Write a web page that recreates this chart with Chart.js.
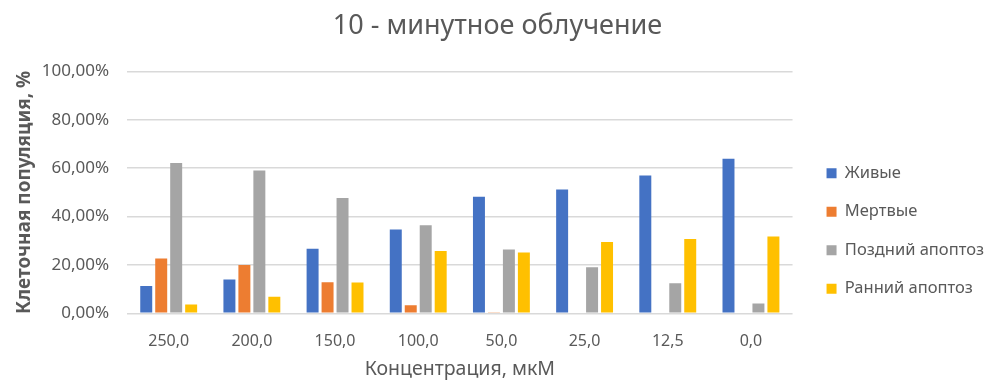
<!DOCTYPE html>
<html>
<head>
<meta charset="utf-8">
<script src="https://cdn.jsdelivr.net/npm/chart.js@4/dist/chart.umd.min.js"></script>
<style>
  html, body { margin: 0; padding: 0; background: #ffffff; }
  #wrap { width: 989px; height: 380px; }
</style>
</head>
<body>
<div id="wrap"><canvas id="chart" width="989" height="380"></canvas></div>
<script>
// Concentrations (µM) along the x axis
const categories = ['250,0', '200,0', '150,0', '100,0', '50,0', '25,0', '12,5', '0,0'];

// Cell population shares, %
const alive      = [11.3, 14.0, 26.7, 34.7, 48.2, 51.2, 57.0, 63.9];
const dead       = [22.7, 20.0, 12.9,  3.3,  0.5,  0,    0,    0];
const lateApopt  = [62.1, 59.0, 47.7, 36.4, 26.4, 19.1, 12.4,  4.1];
const earlyApopt = [ 3.7,  6.9, 12.7, 25.8, 25.1, 29.5, 30.7, 31.8];

const seriesNames = ['Живые', 'Мертвые', 'Поздний апоптоз', 'Ранний апоптоз'];
const seriesColors = ['#4472C4', '#ED7D31', '#A5A5A5', '#FFC000'];

const FONT = "'Noto Sans', 'DejaVu Sans', sans-serif";
const TEXT = '#595959';
const NONE = 'rgba(0,0,0,0)';

const fmtPct = v => v.toFixed(2).replace('.', ',') + '%';

const datasets = [alive, dead, lateApopt, earlyApopt].map((vals, i) => ({
  label: seriesNames[i],
  data: vals,
  backgroundColor: seriesColors[i],
  borderWidth: 0,
  barPercentage: 0.8,
  categoryPercentage: 0.72
}));

// Leaves a little extra air between the plot and the legend column
const legendGap = {
  id: 'legendGap',
  afterLayout(chart) {
    if (chart.legend) {
      chart.legend.left += 12;
      chart.legend.right += 12;
    }
  }
};

new Chart(document.getElementById('chart'), {
  type: 'bar',
  data: { labels: categories, datasets },
  plugins: [legendGap],
  options: {
    responsive: false,
    animation: false,
    layout: { padding: { left: 13, right: 7, top: 0, bottom: 0 } },
    plugins: {
      title: {
        display: true,
        text: '10 - минутное облучение',
        color: TEXT,
        font: { family: FONT, size: 27, weight: 'normal' },
        padding: { top: 10, bottom: 29 }
      },
      legend: {
        position: 'right',
        title: { display: true, text: '', padding: { top: 0, bottom: 70 }, font: { size: 10 } },
        labels: {
          color: TEXT,
          font: { family: FONT, size: 16.5 },
          boxWidth: 10,
          boxHeight: 10,
          padding: 22
        }
      },
      tooltip: { enabled: false }
    },
    scales: {
      x: {
        // invisible tick marks keep the labels clear of the baseline
        grid: { display: true, drawOnChartArea: false, drawTicks: true, tickLength: 14, tickColor: NONE, color: NONE },
        border: { display: false },
        ticks: { color: TEXT, font: { family: FONT, size: 16 }, padding: 4 },
        title: {
          display: true,
          text: 'Концентрация, мкМ',
          color: TEXT,
          font: { family: FONT, size: 19.5, lineHeight: 1.1 },
          padding: { top: 4, bottom: 0 }
        }
      },
      y: {
        min: 0,
        max: 100,
        ticks: {
          stepSize: 20,
          color: TEXT,
          font: { family: FONT, size: 17 },
          padding: 4,
          callback: v => fmtPct(v)
        },
        grid: { color: '#D9D9D9', lineWidth: 1.5, drawTicks: true, tickLength: 14, tickColor: NONE },
        border: { display: false },
        title: {
          display: true,
          text: 'Клеточная популяция, %',
          color: TEXT,
          font: { family: FONT, size: 19, weight: 'bold' },
          padding: { top: 0, bottom: 2 }
        }
      }
    }
  }
});
</script>
</body>
</html>
